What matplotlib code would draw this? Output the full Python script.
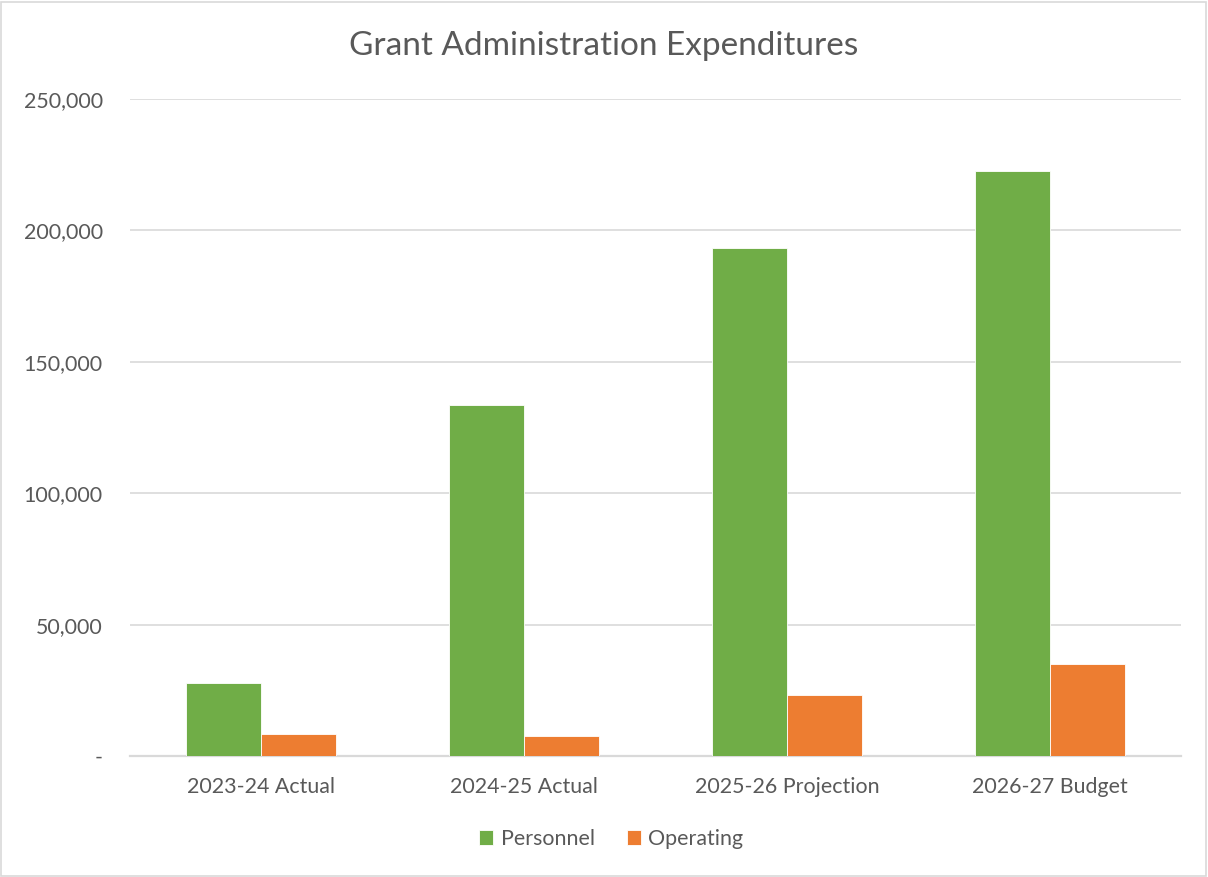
import numpy as np
import matplotlib.pyplot as plt
from matplotlib.patches import Rectangle
from matplotlib.ticker import FuncFormatter

plt.rcParams['font.family'] = ['Lato', 'DejaVu Sans']

years = ['2023-24 Actual', '2024-25 Actual', '2025-26 Projection', '2026-27 Budget']
personnel = [27600, 133600, 193400, 222700]
operating = [8450, 7430, 23300, 35100]

green = '#70AD47'
orange = '#ED7D31'
grey_text = '#595959'
grid_col = '#D9D9D9'

fig = plt.figure(figsize=(12.08, 8.77), dpi=100)
ax = fig.add_axes([130 / 1208, 1 - 756 / 877, 1051 / 1208, 657 / 877])

x = np.arange(len(years))
w = 0.285
ax.bar(x - w / 2, personnel, w, color=green, edgecolor='white', linewidth=0.6, label='Personnel', zorder=3)
ax.bar(x + w / 2, operating, w, color=orange, edgecolor='white', linewidth=0.6, label='Operating', zorder=3)

ax.set_xlim(-0.5, len(years) - 0.5)
ax.set_ylim(0, 250000)
ax.set_yticks(np.arange(0, 250001, 50000))
ax.yaxis.set_major_formatter(FuncFormatter(lambda v, p: '-' if v == 0 else f'{v:,.0f}'))
ax.set_xticks(x)
ax.set_xticklabels(years)

ax.grid(axis='y', color=grid_col, linewidth=1.2, zorder=0)
for s in ['top', 'right', 'left']:
    ax.spines[s].set_visible(False)
ax.spines['bottom'].set_color(grid_col)
ax.spines['bottom'].set_linewidth(1.6)
ax.tick_params(axis='both', length=0, labelsize=15.4, labelcolor=grey_text)
ax.tick_params(axis='y', pad=19.5)
ax.tick_params(axis='x', pad=15)

fig.text(0.5, 1 - 46 / 877, 'Grant Administration Expenditures', ha='center', va='center',
         fontsize=24, color=grey_text)

leg = fig.legend(loc='center', bbox_to_anchor=(0.506, 1 - 839 / 877), ncol=2, frameon=False,
                 fontsize=15.4, labelcolor=grey_text, handlelength=0.65, handleheight=0.65,
                 handletextpad=0.35, columnspacing=1.5)

# chart area border
fig.patches.append(Rectangle((0.001, 0.001), 0.997, 0.997, transform=fig.transFigure,
                             fill=False, edgecolor=grid_col, linewidth=1.2))

plt.savefig('out.png', dpi=100)
